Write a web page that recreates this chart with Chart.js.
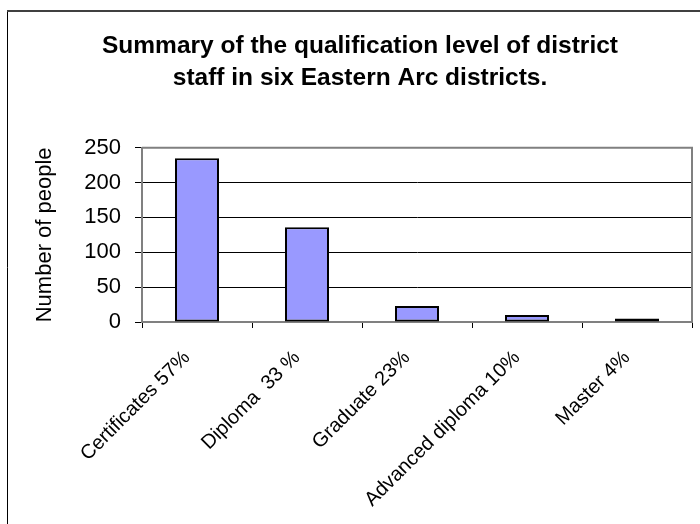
<!DOCTYPE html>
<html>
<head>
<meta charset="utf-8">
<title>Qualification level of district staff</title>
<script src="https://cdn.jsdelivr.net/npm/chart.js@4"></script>
<style>
  html, body { margin: 0; padding: 0; background: #fff; }
  #wrap { width: 700px; height: 524px; }
</style>
</head>
<body>
<div id="wrap"><canvas id="qualChart" width="700" height="524"></canvas></div>
<script>
const categories = [
    "Certificates 57%",
    "Diploma  33 %",
    "Graduate 23%",
    "Advanced diploma 10%",
    "Master 4%"
];
const peopleCounts = [235, 136, 23, 10, 5];
const yTicks = [0, 50, 100, 150, 200, 250];

const chartTitle = ["Summary of the qualification level of district", "staff in six Eastern Arc districts."];
const yAxisTitle = "Number of people";

const FONT = "'Liberation Sans', Arial, sans-serif";

// white background, outer chart frame and grey plot-area border
const framePlugin = {
    id: 'frame',
    beforeDraw(chart) {
        const ctx = chart.ctx;
        ctx.save();
        ctx.fillStyle = '#ffffff';
        ctx.fillRect(0, 0, chart.width, chart.height);
        ctx.strokeStyle = '#000000';
        ctx.lineWidth = 1;
        ctx.beginPath();
        ctx.moveTo(7.5, 11);
        ctx.lineTo(7.5, chart.height);
        ctx.stroke();
        ctx.strokeStyle = '#404040';
        ctx.lineWidth = 2;
        ctx.beginPath();
        ctx.moveTo(7, 11);
        ctx.lineTo(chart.width, 11);
        ctx.stroke();
        ctx.restore();
    },
    afterDatasetsDraw(chart) {
        const a = chart.chartArea;
        const ctx = chart.ctx;
        ctx.save();
        ctx.strokeStyle = '#808080';
        ctx.lineWidth = 2;
        ctx.beginPath();
        ctx.moveTo(a.left, a.top);
        ctx.lineTo(a.right, a.top);
        ctx.lineTo(a.right, a.bottom);
        ctx.stroke();
        ctx.restore();
    }
};

new Chart(document.getElementById('qualChart').getContext('2d'), {
    type: 'bar',
    data: {
        labels: categories,
        datasets: [{
            data: peopleCounts,
            backgroundColor: '#9999ff',
            borderColor: '#000000',
            borderWidth: 2,
            borderSkipped: false,
            categoryPercentage: 1,
            barPercentage: 0.4
        }]
    },
    options: {
        responsive: false,
        animation: false,
        layout: {
            padding: { left: 28, right: 8, top: 0, bottom: 0 }
        },
        scales: {
            x: {
                afterFit: scale => { scale.height = 202; },
                grid: {
                    offset: true,
                    drawOnChartArea: false,
                    drawTicks: true,
                    tickLength: 6,
                    color: '#000000'
                },
                border: { color: '#808080', width: 2 },
                ticks: {
                    autoSkip: false,
                    minRotation: 45,
                    maxRotation: 45,
                    padding: 18,
                    labelOffset: -10,
                    color: '#000000',
                    font: { family: FONT, size: 20 }
                }
            },
            y: {
                min: 0,
                max: 250,
                afterFit: scale => { scale.width = 114; },
                afterBuildTicks: scale => {
                    scale.ticks = yTicks.map(v => ({ value: v }));
                },
                grid: {
                    color: '#000000',
                    lineWidth: 1,
                    tickLength: 7
                },
                border: { color: '#808080', width: 2 },
                ticks: {
                    padding: 14,
                    color: '#000000',
                    font: { family: FONT, size: 22 }
                },
                title: {
                    display: true,
                    text: yAxisTitle,
                    color: '#000000',
                    padding: { top: 4, bottom: 0 },
                    font: { family: FONT, size: 22 }
                }
            }
        },
        plugins: {
            legend: { display: false },
            tooltip: { enabled: false },
            title: {
                display: true,
                text: chartTitle,
                color: '#000000',
                padding: { top: 30, bottom: 53 },
                font: { family: FONT, size: 24.5, weight: 'bold', lineHeight: 1.32 }
            }
        }
    },
    plugins: [framePlugin]
});
</script>
</body>
</html>
